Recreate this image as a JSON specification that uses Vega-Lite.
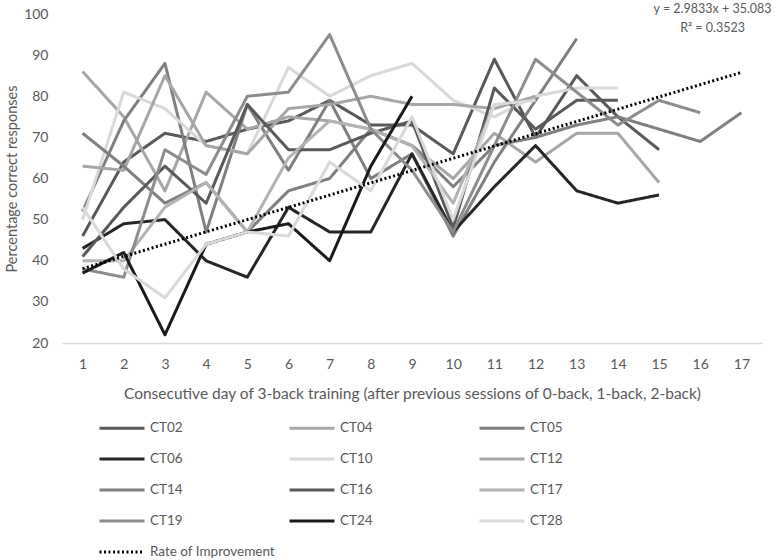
{
  "$schema": "https://vega.github.io/schema/vega-lite/v6.json",
  "width": 700,
  "height": 329,
  "autosize": {"type": "none"},
  "padding": {"left": 62, "top": 14, "right": 15, "bottom": 217},
  "background": "white",
  "config": {
    "view": {"stroke": null},
    "font": "Lato",
    "axis": {"labelColor": "#595959", "titleColor": "#595959", "labelFont": "Lato", "titleFont": "Lato", "titleFontWeight": "normal"}
  },
  "datasets": {
    "series": [
      {"s":"CT02","d":1,"v":46},{"s":"CT02","d":2,"v":64},{"s":"CT02","d":3,"v":71},{"s":"CT02","d":4,"v":69},{"s":"CT02","d":5,"v":72},{"s":"CT02","d":6,"v":74},{"s":"CT02","d":7,"v":79},{"s":"CT02","d":8,"v":73},{"s":"CT02","d":9,"v":73},{"s":"CT02","d":10,"v":66},{"s":"CT02","d":11,"v":89},{"s":"CT02","d":12,"v":70},{"s":"CT02","d":13,"v":85},{"s":"CT02","d":14,"v":75},{"s":"CT02","d":15,"v":67},
      {"s":"CT04","d":1,"v":86},{"s":"CT04","d":2,"v":75},{"s":"CT04","d":3,"v":57},{"s":"CT04","d":4,"v":81},{"s":"CT04","d":5,"v":72},{"s":"CT04","d":6,"v":75},{"s":"CT04","d":7,"v":74},{"s":"CT04","d":8,"v":72},{"s":"CT04","d":9,"v":68},{"s":"CT04","d":10,"v":60},{"s":"CT04","d":11,"v":71},{"s":"CT04","d":12,"v":64},{"s":"CT04","d":13,"v":71},{"s":"CT04","d":14,"v":71},{"s":"CT04","d":15,"v":59},
      {"s":"CT05","d":1,"v":52},{"s":"CT05","d":2,"v":74},{"s":"CT05","d":3,"v":88},{"s":"CT05","d":4,"v":47},{"s":"CT05","d":5,"v":78},{"s":"CT05","d":6,"v":62},{"s":"CT05","d":7,"v":79},{"s":"CT05","d":8,"v":60},{"s":"CT05","d":9,"v":66},{"s":"CT05","d":10,"v":46},{"s":"CT05","d":11,"v":64},{"s":"CT05","d":12,"v":79},{"s":"CT05","d":13,"v":94},
      {"s":"CT06","d":1,"v":43},{"s":"CT06","d":2,"v":49},{"s":"CT06","d":3,"v":50},{"s":"CT06","d":4,"v":40},{"s":"CT06","d":5,"v":36},{"s":"CT06","d":6,"v":53},{"s":"CT06","d":7,"v":47},{"s":"CT06","d":8,"v":47},{"s":"CT06","d":9,"v":66},{"s":"CT06","d":10,"v":47},{"s":"CT06","d":11,"v":58},{"s":"CT06","d":12,"v":68},{"s":"CT06","d":13,"v":57},{"s":"CT06","d":14,"v":54},{"s":"CT06","d":15,"v":56},
      {"s":"CT10","d":1,"v":50},{"s":"CT10","d":2,"v":81},{"s":"CT10","d":3,"v":77},{"s":"CT10","d":4,"v":68},{"s":"CT10","d":5,"v":66},{"s":"CT10","d":6,"v":87},{"s":"CT10","d":7,"v":80},{"s":"CT10","d":8,"v":85},{"s":"CT10","d":9,"v":88},{"s":"CT10","d":10,"v":79},{"s":"CT10","d":11,"v":75},{"s":"CT10","d":12,"v":80},{"s":"CT10","d":13,"v":82},{"s":"CT10","d":14,"v":82},
      {"s":"CT12","d":1,"v":63},{"s":"CT12","d":2,"v":62},{"s":"CT12","d":3,"v":85},{"s":"CT12","d":4,"v":68},{"s":"CT12","d":5,"v":66},{"s":"CT12","d":6,"v":77},{"s":"CT12","d":7,"v":78},{"s":"CT12","d":8,"v":80},{"s":"CT12","d":9,"v":78},{"s":"CT12","d":10,"v":78},{"s":"CT12","d":11,"v":77},{"s":"CT12","d":12,"v":80},
      {"s":"CT14","d":1,"v":71},{"s":"CT14","d":2,"v":63},{"s":"CT14","d":3,"v":54},{"s":"CT14","d":4,"v":59},{"s":"CT14","d":5,"v":47},{"s":"CT14","d":6,"v":57},{"s":"CT14","d":7,"v":60},{"s":"CT14","d":8,"v":72},{"s":"CT14","d":9,"v":68},{"s":"CT14","d":10,"v":58},{"s":"CT14","d":11,"v":68},{"s":"CT14","d":12,"v":70},{"s":"CT14","d":13,"v":73},{"s":"CT14","d":14,"v":75},{"s":"CT14","d":15,"v":72},{"s":"CT14","d":16,"v":69},{"s":"CT14","d":17,"v":76},
      {"s":"CT16","d":1,"v":41},{"s":"CT16","d":2,"v":53},{"s":"CT16","d":3,"v":63},{"s":"CT16","d":4,"v":54},{"s":"CT16","d":5,"v":78},{"s":"CT16","d":6,"v":67},{"s":"CT16","d":7,"v":67},{"s":"CT16","d":8,"v":71},{"s":"CT16","d":9,"v":74},{"s":"CT16","d":10,"v":48},{"s":"CT16","d":11,"v":82},{"s":"CT16","d":12,"v":72},{"s":"CT16","d":13,"v":79},{"s":"CT16","d":14,"v":79},
      {"s":"CT17","d":1,"v":40},{"s":"CT17","d":2,"v":40},{"s":"CT17","d":3,"v":53},{"s":"CT17","d":4,"v":59},{"s":"CT17","d":5,"v":47},{"s":"CT17","d":6,"v":65},{"s":"CT17","d":7,"v":74},{"s":"CT17","d":8,"v":72},{"s":"CT17","d":9,"v":68},{"s":"CT17","d":10,"v":54},{"s":"CT17","d":11,"v":78},
      {"s":"CT19","d":1,"v":38},{"s":"CT19","d":2,"v":36},{"s":"CT19","d":3,"v":67},{"s":"CT19","d":4,"v":61},{"s":"CT19","d":5,"v":80},{"s":"CT19","d":6,"v":81},{"s":"CT19","d":7,"v":95},{"s":"CT19","d":8,"v":72},{"s":"CT19","d":9,"v":62},{"s":"CT19","d":10,"v":47},{"s":"CT19","d":11,"v":68},{"s":"CT19","d":12,"v":89},{"s":"CT19","d":13,"v":81},{"s":"CT19","d":14,"v":73},{"s":"CT19","d":15,"v":79},{"s":"CT19","d":16,"v":76},
      {"s":"CT24","d":1,"v":37},{"s":"CT24","d":2,"v":42},{"s":"CT24","d":3,"v":22},{"s":"CT24","d":4,"v":44},{"s":"CT24","d":5,"v":47},{"s":"CT24","d":6,"v":49},{"s":"CT24","d":7,"v":40},{"s":"CT24","d":8,"v":63},{"s":"CT24","d":9,"v":80},
      {"s":"CT28","d":1,"v":53},{"s":"CT28","d":2,"v":38},{"s":"CT28","d":3,"v":31},{"s":"CT28","d":4,"v":44},{"s":"CT28","d":5,"v":47},{"s":"CT28","d":6,"v":46},{"s":"CT28","d":7,"v":64},{"s":"CT28","d":8,"v":57},{"s":"CT28","d":9,"v":75},{"s":"CT28","d":10,"v":50},{"s":"CT28","d":11,"v":78},{"s":"CT28","d":12,"v":79},
      {"s":"Rate of Improvement","d":1,"v":38.07},{"s":"Rate of Improvement","d":17,"v":85.8}
    ],
    "notes": [
      {"t":"y = 2.9833x + 35.083","d":16.3,"v":101.2},
      {"t":"R² = 0.3523","d":16.3,"v":96.6}
    ]
  },
  "layer": [
    {
      "data": {"name": "series"},
      "mark": {"type": "line", "strokeWidth": 3, "strokeJoin": "round"},
      "encoding": {
        "x": {"field": "d", "type": "quantitative",
          "scale": {"domain": [0.5, 17.5], "nice": false, "zero": false},
          "axis": {"values": [1,2,3,4,5,6,7,8,9,10,11,12,13,14,15,16,17], "title": "Consecutive day of 3-back training (after previous sessions of 0-back, 1-back, 2-back)",
            "grid": false, "ticks": false, "domainColor": "#d9d9d9", "domainWidth": 1.5, "labelFontSize": 14, "titleFontSize": 15.5, "labelPadding": 14, "titlePadding": 15}},
        "y": {"field": "v", "type": "quantitative",
          "scale": {"domain": [20, 100], "nice": false, "zero": false},
          "axis": {"values": [20,30,40,50,60,70,80,90,100], "title": "Percentage correct responses",
            "grid": false, "ticks": false, "domain": false, "labelFontSize": 14, "titleFontSize": 14.5, "labelPadding": 14, "titlePadding": 4}},
        "color": {"field": "s", "type": "nominal",
          "scale": {"domain": ["CT02","CT04","CT05","CT06","CT10","CT12","CT14","CT16","CT17","CT19","CT24","CT28","Rate of Improvement"],
                    "range": ["#595959","#a6a6a6","#7f7f7f","#262626","#d9d9d9","#a6a6a6","#7f7f7f","#595959","#b3b3b3","#8c8c8c","#1a1a1a","#d9d9d9","#000000"]},
          "legend": {"orient": "none", "legendX": 36, "legendY": 390, "title": null, "columns": 3, "direction": "horizontal", "gridAlign": "all",
            "symbolType": "stroke", "symbolSize": 2025, "symbolStrokeWidth": 3, "labelFontSize": 13.5, "labelColor": "#595959", "labelFont": "Lato",
            "labelOffset": 4, "columnPadding": 8, "rowPadding": 0}},
        "strokeDash": {"field": "s", "type": "nominal",
          "scale": {"domain": ["CT02","CT04","CT05","CT06","CT10","CT12","CT14","CT16","CT17","CT19","CT24","CT28","Rate of Improvement"],
                    "range": [[1,0],[1,0],[1,0],[1,0],[1,0],[1,0],[1,0],[1,0],[1,0],[1,0],[1,0],[1,0],[2,2.5]]}},
        "order": {"field": "d", "type": "quantitative"}
      }
    },
    {
      "data": {"name": "notes"},
      "mark": {"type": "text", "fontSize": 12.5, "color": "#595959", "font": "Lato", "align": "center"},
      "encoding": {
        "x": {"field": "d", "type": "quantitative"},
        "y": {"field": "v", "type": "quantitative"},
        "text": {"field": "t"}
      }
    }
  ]
}
